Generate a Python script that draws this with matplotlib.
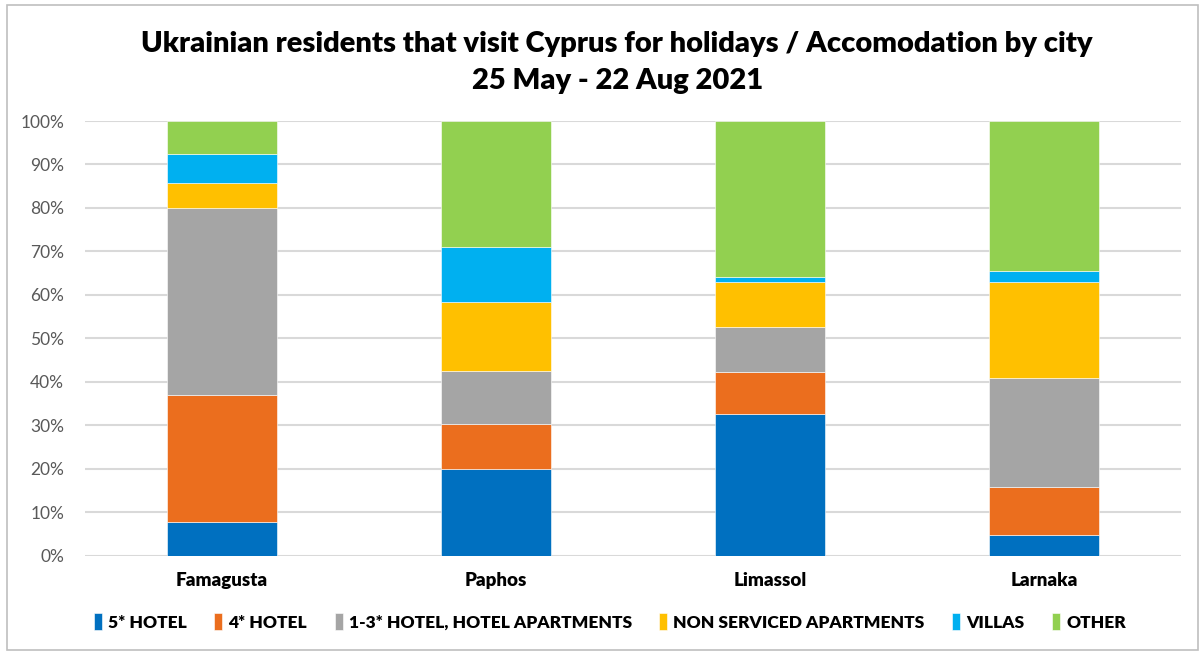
import numpy as np
import matplotlib.pyplot as plt
from matplotlib.patches import Rectangle
from matplotlib.ticker import PercentFormatter

plt.rcParams['font.family'] = ['Lato', 'DejaVu Sans']

cities = ['Famagusta', 'Paphos', 'Limassol', 'Larnaka']
series = ['5* HOTEL', '4* HOTEL', '1-3* HOTEL, HOTEL APARTMENTS',
          'NON SERVICED APARTMENTS', 'VILLAS', 'OTHER']
hotel5 = [7.8, 20.0, 32.7, 4.8]
hotel4 = [29.2, 10.4, 9.6, 10.9]
hotel13 = [43.1, 12.0, 10.3, 25.1]
non_serviced = [5.6, 15.9, 10.4, 22.2]
villas = [6.6, 12.7, 1.1, 2.6]
other = [7.7, 29.0, 35.9, 34.4]
colors = ['#0070C0', '#EB6E1E', '#A5A5A5', '#FFC000', '#00B0F0', '#92D050']

values = [hotel5, hotel4, hotel13, non_serviced, villas, other]

fig = plt.figure(figsize=(12.03, 6.52), dpi=100)
ax = fig.add_axes([0.0707, 0.1477, 0.9110, 0.6667])

x = np.arange(len(cities))
bottom = np.zeros(len(cities))
for name, vals, c in zip(series, values, colors):
    ax.bar(x, vals, 0.40, bottom=bottom, color=c, label=name,
           edgecolor='white', linewidth=0.4, zorder=3)
    bottom += np.array(vals)

ax.set_xlim(-0.5, len(cities) - 0.5)
ax.set_ylim(0, 100)
ax.set_yticks(np.arange(0, 101, 10))
ax.yaxis.set_major_formatter(PercentFormatter(decimals=0))
ax.grid(axis='y', color='#D9D9D9', linewidth=1.5, zorder=0)
for s in ax.spines.values():
    s.set_visible(False)
ax.tick_params(axis='y', length=0, labelsize=12.5, labelcolor='#595959', pad=15)
ax.tick_params(axis='x', length=0, labelsize=13.5, pad=12)
ax.set_xticks(x)
ax.set_xticklabels(cities, fontweight='heavy')

fig.text(0.513, 0.933, 'Ukrainian residents that visit Cyprus for holidays / Accomodation by city',
         ha='center', va='center', fontsize=21, fontweight='heavy')
fig.text(0.513, 0.876, '25 May - 22 Aug 2021', ha='center', va='center',
         fontsize=21, fontweight='heavy')

leg = fig.legend(loc='center', bbox_to_anchor=(0.507, 0.046), ncol=6, frameon=False,
                 prop={'weight': 'heavy', 'size': 12.5}, handlelength=0.45,
                 handleheight=1.1, handletextpad=0.35, columnspacing=1.6)

fig.patches.append(Rectangle((0.006, 0.003), 0.99, 0.989, transform=fig.transFigure,
                             fill=False, edgecolor='#BFBFBF', linewidth=1.2))

fig.savefig('out.png', dpi=100)
